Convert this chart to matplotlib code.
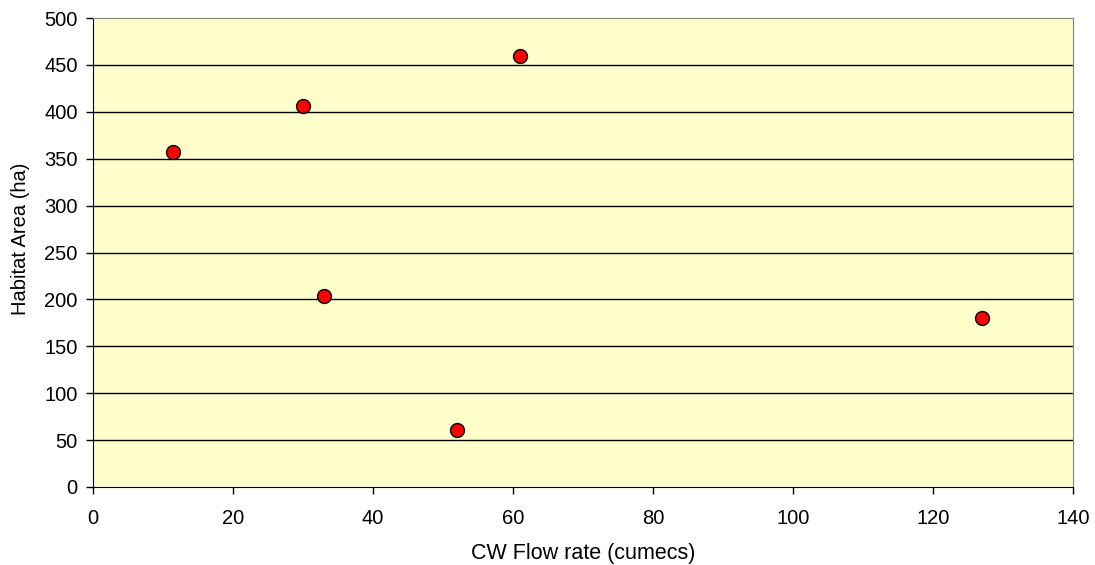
import matplotlib
matplotlib.use("Agg")
import matplotlib.pyplot as plt

plt.rcParams['font.family'] = ['Liberation Sans', 'DejaVu Sans']

FlowRate    = [11.4, 30, 33, 52, 61, 127]
HabitatArea = [357, 406, 204, 61, 460, 180]
YTicks      = [0, 50, 100, 150, 200, 250, 300, 350, 400, 450, 500]
XTicks      = [0, 20, 40, 60, 80, 100, 120, 140]

fig = plt.figure(figsize=(10.95, 5.65), dpi=100)
ax = fig.add_axes([93/1095, 1-487/565, 980/1095, 469/565])
ax.set_facecolor('#FFFFCC')

for y in YTicks[1:-1]:
    ax.axhline(y, color='black', lw=1, zorder=1)

ax.scatter(FlowRate, HabitatArea, s=100, c='#FF0000', edgecolors='black', linewidths=1, zorder=3)

ax.set_xlim(0, 140)
ax.set_ylim(0, 500)
ax.set_xticks(XTicks)
ax.set_yticks(YTicks)
ax.tick_params(direction='out', length=5, labelsize=14.5, width=1)
ax.tick_params(axis='x', pad=11)
ax.tick_params(axis='y', pad=6)
ax.spines['left'].set_color('black')
ax.spines['bottom'].set_color('black')
ax.spines['top'].set_color('#808080')
ax.spines['right'].set_color('#808080')

fig.text(583/1095, 1-553/565, "CW Flow rate (cumecs)", fontsize=15.5, ha='center', va='center')
fig.text(21/1095, 1-239/565, "Habitat Area (ha)", fontsize=14.5, ha='center', va='center', rotation=90)

plt.savefig("out.png", dpi=100)
plt.close()
